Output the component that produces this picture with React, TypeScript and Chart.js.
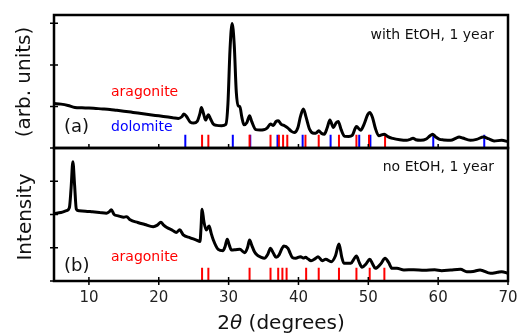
import React, { useEffect, useRef } from "react";
import { Chart, registerables } from "chart.js";
Chart.register(...registerables);

// ---- data (panel intensity in arbitrary units, 0..1 per panel) ----
const anglesA = [5.0, 6.0, 7.0, 8.0, 9.0, 10.0, 11.0, 12.0, 13.0, 14.0, 15.0, 16.0, 17.0, 18.0, 19.0, 20.0, 21.0, 22.0, 22.8, 23.3, 23.6, 24.0, 24.5, 25.0, 25.5, 25.9, 26.1, 26.4, 26.7, 27.1, 27.4, 27.8, 28.3, 29.0, 29.6, 29.9, 30.2, 30.5, 30.8, 31.1, 31.4, 31.6, 31.9, 32.2, 32.6, 33.0, 33.3, 33.9, 34.5, 35.0, 35.5, 36.0, 36.4, 36.8, 37.1, 37.5, 38.0, 38.5, 39.0, 39.4, 39.9, 40.3, 40.7, 41.1, 41.6, 42.2, 42.6, 42.9, 43.3, 43.7, 44.1, 44.5, 45.0, 45.4, 45.7, 46.1, 46.6, 47.2, 47.7, 48.1, 48.3, 48.9, 49.4, 49.9, 50.2, 50.6, 51.0, 51.5, 52.3, 52.8, 53.5, 54.5, 55.5, 56.0, 56.4, 56.8, 57.5, 58.3, 58.8, 59.2, 59.6, 60.2, 60.8, 61.8, 62.5, 63.0, 63.5, 64.6, 65.5, 66.5, 67.2, 68.0, 69.1, 70.0];
const intensA = [0.335, 0.33, 0.32, 0.305, 0.302, 0.3, 0.297, 0.294, 0.29, 0.283, 0.277, 0.27, 0.263, 0.255, 0.248, 0.242, 0.235, 0.228, 0.222, 0.235, 0.256, 0.235, 0.195, 0.188, 0.2, 0.26, 0.305, 0.26, 0.21, 0.25, 0.22, 0.18, 0.17, 0.168, 0.178, 0.33, 0.74, 0.937, 0.78, 0.42, 0.315, 0.312, 0.23, 0.174, 0.19, 0.242, 0.2, 0.138, 0.135, 0.137, 0.15, 0.18, 0.17, 0.2, 0.205, 0.18, 0.167, 0.15, 0.125, 0.116, 0.15, 0.24, 0.293, 0.23, 0.14, 0.11, 0.115, 0.129, 0.11, 0.104, 0.15, 0.21, 0.155, 0.19, 0.2, 0.14, 0.088, 0.087, 0.095, 0.145, 0.161, 0.134, 0.18, 0.25, 0.267, 0.23, 0.15, 0.092, 0.104, 0.085, 0.072, 0.062, 0.058, 0.065, 0.073, 0.062, 0.058, 0.068, 0.09, 0.104, 0.085, 0.065, 0.061, 0.058, 0.072, 0.083, 0.075, 0.058, 0.065, 0.083, 0.07, 0.053, 0.058, 0.048];

const anglesB = [5.0, 6.0, 6.8, 7.2, 7.45, 7.7, 7.95, 8.2, 8.6, 9.5, 10.5, 11.5, 12.5, 12.9, 13.2, 13.6, 14.2, 15.0, 15.4, 15.9, 17.0, 18.0, 19.2, 19.8, 20.3, 20.7, 21.1, 22.0, 22.5, 23.0, 23.5, 24.5, 25.4, 25.9, 26.05, 26.2, 26.45, 26.8, 27.2, 27.5, 27.8, 28.5, 29.2, 29.5, 29.8, 30.1, 30.4, 31.0, 31.6, 32.3, 32.7, 33.0, 33.3, 33.7, 34.1, 34.6, 35.1, 35.6, 36.0, 36.4, 36.8, 37.2, 37.6, 37.9, 38.5, 38.8, 39.1, 39.6, 40.3, 40.7, 41.0, 41.4, 41.8, 42.4, 42.8, 43.4, 43.9, 44.7, 45.3, 45.8, 46.2, 46.5, 47.5, 48.0, 48.3, 48.7, 49.1, 49.7, 50.2, 50.6, 51.0, 51.8, 52.4, 52.9, 53.4, 54.1, 55.1, 56.5, 58.0, 59.5, 60.5, 61.8, 63.2, 64.1, 65.0, 66.0, 67.5, 68.5, 69.1, 70.0];
const intensB = [0.508, 0.515, 0.529, 0.55, 0.7, 0.897, 0.72, 0.54, 0.528, 0.525, 0.52, 0.515, 0.509, 0.52, 0.536, 0.5, 0.49, 0.48, 0.484, 0.46, 0.44, 0.425, 0.408, 0.42, 0.442, 0.42, 0.404, 0.38, 0.365, 0.385, 0.347, 0.325, 0.308, 0.297, 0.4, 0.539, 0.45, 0.383, 0.414, 0.36, 0.31, 0.238, 0.228, 0.26, 0.314, 0.27, 0.233, 0.235, 0.238, 0.213, 0.25, 0.308, 0.27, 0.22, 0.195, 0.18, 0.171, 0.2, 0.246, 0.21, 0.178, 0.195, 0.24, 0.263, 0.246, 0.21, 0.178, 0.171, 0.183, 0.172, 0.178, 0.165, 0.153, 0.168, 0.183, 0.153, 0.163, 0.145, 0.19, 0.278, 0.18, 0.133, 0.133, 0.17, 0.188, 0.14, 0.103, 0.13, 0.163, 0.13, 0.095, 0.13, 0.171, 0.14, 0.095, 0.095, 0.083, 0.085, 0.08, 0.085, 0.078, 0.083, 0.088, 0.07, 0.072, 0.083, 0.058, 0.065, 0.07, 0.058];

// reference stick positions (2θ)
const aragoniteA = [26.2, 27.1, 33.0, 36.0, 37.2, 37.8, 38.4, 41.0, 42.9, 45.8, 48.3, 50.1, 52.4];
const dolomiteA = [23.8, 30.6, 33.1, 37.0, 40.6, 44.6, 48.7, 50.3, 59.3, 66.6];
const aragoniteB = [26.2, 27.1, 33.0, 36.0, 37.1, 37.7, 38.3, 41.1, 42.9, 45.8, 48.3, 50.2, 52.3];
const stickHeight = 0.1;

const xTicks = [10, 20, 30, 40, 50, 60, 70];
const yTicksPanel = [0, 0.3125, 0.625, 0.9375];
const yTicksPanelB = [0, 0.25, 0.5, 0.75];

const FONT = "'DejaVu Sans', sans-serif";
const RED = "#ff0000";
const BLUE = "#0000ff";

export default function App() {
  const ref = useRef<HTMLCanvasElement>(null);

  useEffect(() => {
    if (!ref.current) return;
    const OFF = 1; // upper panel offset on the shared y scale
    const curve = (xs: number[], ys: number[], off: number) =>
      xs.map((x, i) => ({ x, y: ys[i] + off }));
    const sticks = (pos: number[], off: number) =>
      pos.flatMap((p) => [
        { x: p, y: off },
        { x: p, y: off + stickHeight },
        { x: p, y: null as any },
      ]);

    const stickDs = (data: any[], color: string) => ({
      data,
      borderColor: color,
      borderWidth: 2,
      pointRadius: 0,
      tension: 0,
      spanGaps: false,
      clip: false as any,
    });

    const framePlugin = {
      id: "frames",
      afterDraw(chart: any) {
        const { ctx, chartArea } = chart;
        const xs = chart.scales.x;
        const ys = chart.scales.y;
        const L = chartArea.left, R = chartArea.right, T = chartArea.top, B = chartArea.bottom;
        const M = ys.getPixelForValue(OFF);
        ctx.save();
        // texts
        ctx.textBaseline = "middle";
        ctx.fillStyle = "#111";
        ctx.font = `14px ${FONT}`;
        ctx.textAlign = "right";
        ctx.fillText("with EtOH, 1 year", R - 14, T + 20);
        ctx.fillText("no EtOH, 1 year", R - 14, M + 19);
        ctx.textAlign = "left";
        ctx.font = `18px ${FONT}`;
        ctx.fillText("(a)", L + 10, M - 21);
        ctx.fillText("(b)", L + 10, B - 15);
        ctx.font = `14px ${FONT}`;
        ctx.fillStyle = RED;
        ctx.fillText("aragonite", L + 57, M - 56);
        ctx.fillText("aragonite", L + 57, B - 24);
        ctx.fillStyle = BLUE;
        ctx.fillText("dolomite", L + 57, M - 21);

        // frames
        ctx.strokeStyle = "#000";
        ctx.lineWidth = 2.5;
        ctx.strokeRect(L, T, R - L, M - T);
        ctx.strokeRect(L, M, R - L, B - M);

        // ticks
        ctx.lineWidth = 1.5;
        ctx.beginPath();
        yTicksPanel.forEach((v) => {
          const y = ys.getPixelForValue(OFF + v);
          ctx.moveTo(L - 4, y);
          ctx.lineTo(L + 4, y);
        });
        yTicksPanelB.forEach((v) => {
          const y = ys.getPixelForValue(v);
          ctx.moveTo(L - 4, y);
          ctx.lineTo(L + 4, y);
        });
        xTicks.forEach((v) => {
          const x = xs.getPixelForValue(v);
          ctx.moveTo(x, B - 4);
          ctx.lineTo(x, B + 4);
          ctx.moveTo(x, M - 4);
          ctx.lineTo(x, M);
        });
        ctx.stroke();

        // axis titles
        ctx.fillStyle = "#111";
        ctx.textAlign = "left";
        const cx = (L + R) / 2;
        const ty = 324;
        const p1 = "2", p2 = "θ", p3 = " (degrees)";
        ctx.font = `20px ${FONT}`;
        const w1 = ctx.measureText(p1).width;
        const w3 = ctx.measureText(p3).width;
        ctx.font = `italic 20px ${FONT}`;
        const w2 = ctx.measureText(p2).width;
        let x0 = cx - (w1 + w2 + w3) / 2;
        ctx.font = `20px ${FONT}`;
        ctx.fillText(p1, x0, ty);
        ctx.font = `italic 20px ${FONT}`;
        ctx.fillText(p2, x0 + w1, ty);
        ctx.font = `20px ${FONT}`;
        ctx.fillText(p3, x0 + w1 + w2, ty);

        ctx.font = `20px ${FONT}`;
        ctx.textAlign = "center";
        ctx.save();
        ctx.translate(25, 82);
        ctx.rotate(-Math.PI / 2);
        ctx.fillText("(arb. units)", 0, 0);
        ctx.restore();
        ctx.save();
        ctx.translate(26, 217);
        ctx.rotate(-Math.PI / 2);
        ctx.fillText("Intensity", 0, 0);
        ctx.restore();
        ctx.restore();
      },
    };

    const chart = new Chart(ref.current, {
      type: "line",
      data: {
        datasets: [
          {
            data: curve(anglesA, intensA, OFF),
            borderColor: "#000",
            borderWidth: 3,
            pointRadius: 0,
            cubicInterpolationMode: "monotone",
          },
          {
            data: curve(anglesB, intensB, 0),
            borderColor: "#000",
            borderWidth: 3,
            pointRadius: 0,
            cubicInterpolationMode: "monotone",
          },
          stickDs(sticks(aragoniteA, OFF), RED),
          stickDs(sticks(dolomiteA, OFF), BLUE),
          stickDs(sticks(aragoniteB, 0), RED),
        ] as any,
      },
      options: {
        responsive: false,
        animation: false,
        devicePixelRatio: 1,
        layout: { padding: { left: 54, right: 10, top: 15, bottom: 26 } },
        plugins: { legend: { display: false }, tooltip: { enabled: false } },
        scales: {
          x: {
            type: "linear",
            min: 5,
            max: 70,
            afterBuildTicks: (s: any) => {
              s.ticks = xTicks.map((v) => ({ value: v }));
            },
            afterFit: (s: any) => {
              s.height = 26;
              s.paddingLeft = 0;
              s.paddingRight = 0;
              s.paddingTop = 0;
              s.paddingBottom = 0;
            },
            ticks: {
              font: { family: FONT, size: 15 },
              color: "#222",
              padding: 8,
              maxRotation: 0,
              autoSkip: false,
            },
            grid: { display: false, drawTicks: false },
            border: { display: false },
          },
          y: { type: "linear", min: 0, max: 2, display: false },
        },
      } as any,
      plugins: [framePlugin],
    });
    return () => chart.destroy();
  }, []);

  return (
    <div style={{ position: "absolute", left: 0, top: 0, width: 518, height: 333, background: "#fff" }}>
      <canvas ref={ref} width={518} height={333} />
    </div>
  );
}
